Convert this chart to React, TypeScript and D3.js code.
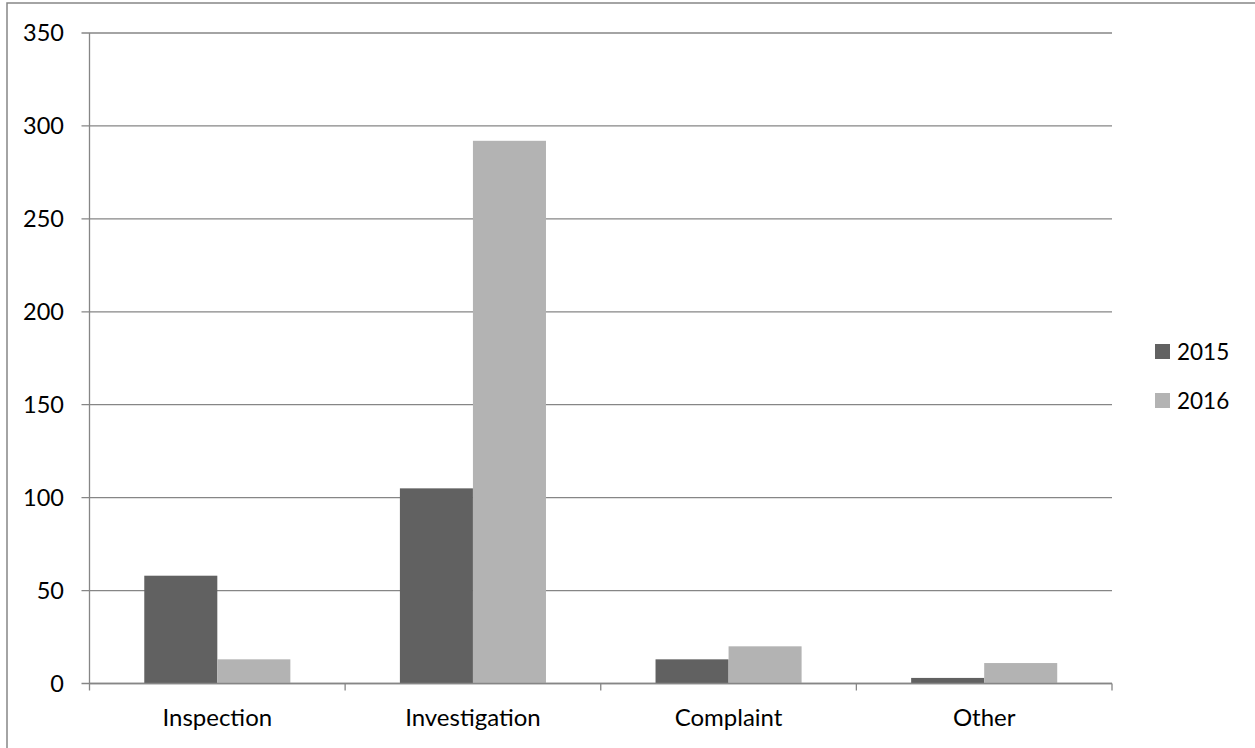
import React from "react";
import * as d3 from "d3";

const categories = ["Inspection", "Investigation", "Complaint", "Other"];
const seriesNames = ["2015", "2016"];
const values2015 = [58, 105, 13, 3];
const values2016 = [13, 292, 20, 11];
const yTicks = [0, 50, 100, 150, 200, 250, 300, 350];
const seriesColors = ["#616161", "#b3b3b3"];

const W = 1255;
const H = 748;
const plot = { left: 89.5, right: 1112, top: 33, bottom: 683.5 };
const FONT = "Lato, 'Open Sans', sans-serif";
const GRID = "#868686";

export default function App() {
  const x = d3
    .scaleBand<string>()
    .domain(categories)
    .range([plot.left, plot.right])
    .paddingInner(0)
    .paddingOuter(0);
  const y = d3.scaleLinear().domain([0, 350]).range([plot.bottom, plot.top]);
  const bw = x.bandwidth();
  const barW = bw / 3.5;
  const sub = d3
    .scaleBand<string>()
    .domain(seriesNames)
    .range([barW * 0.75, barW * 2.75]);
  const series = [values2015, values2016];

  return (
    <svg
      width={W}
      height={H}
      style={{ position: "absolute", left: 0, top: 0, background: "#fff" }}
      fontFamily={FONT}
    >
      <rect x={7} y={3} width={1300} height={800} fill="#fff" stroke={GRID} strokeWidth={1.5} />
      {yTicks.map((t) => (
        <line key={"g" + t} x1={plot.left - 8} x2={plot.right} y1={y(t)} y2={y(t)} stroke={GRID} strokeWidth={1.3} />
      ))}
      {series.map((vals, si) =>
        categories.map((c, ci) => (
          <rect
            key={si + "-" + ci}
            x={(x(c) as number) + (sub(seriesNames[si]) as number)}
            y={y(vals[ci])}
            width={barW}
            height={plot.bottom - y(vals[ci])}
            fill={seriesColors[si]}
          />
        ))
      )}
      <line x1={plot.left} x2={plot.left} y1={plot.top} y2={plot.bottom + 7} stroke={GRID} strokeWidth={1.3} />
      <line x1={plot.left} x2={plot.right} y1={plot.bottom} y2={plot.bottom} stroke={GRID} strokeWidth={1.3} />
      {categories.map((c) => {
        const xr = (x(c) as number) + bw;
        return <line key={"t" + c} x1={xr} x2={xr} y1={plot.bottom} y2={plot.bottom + 7} stroke={GRID} strokeWidth={1.3} />;
      })}
      {yTicks.map((t) => (
        <text key={"yl" + t} x={64} y={y(t)} dy="0.36em" textAnchor="end" fontSize={23.5} fill="#000">
          {t}
        </text>
      ))}
      {categories.map((c) => (
        <text key={"xl" + c} x={(x(c) as number) + bw / 2} y={726} textAnchor="middle" fontSize={24} fill="#000">
          {c}
        </text>
      ))}
      {seriesNames.map((s, i) => (
        <g key={"lg" + s} transform={`translate(1155, ${344 + i * 49})`}>
          <rect x={0} y={0} width={15} height={15} fill={seriesColors[i]} />
          <text x={22} y={16} fontSize={22.5} fill="#000">
            {s}
          </text>
        </g>
      ))}
    </svg>
  );
}
